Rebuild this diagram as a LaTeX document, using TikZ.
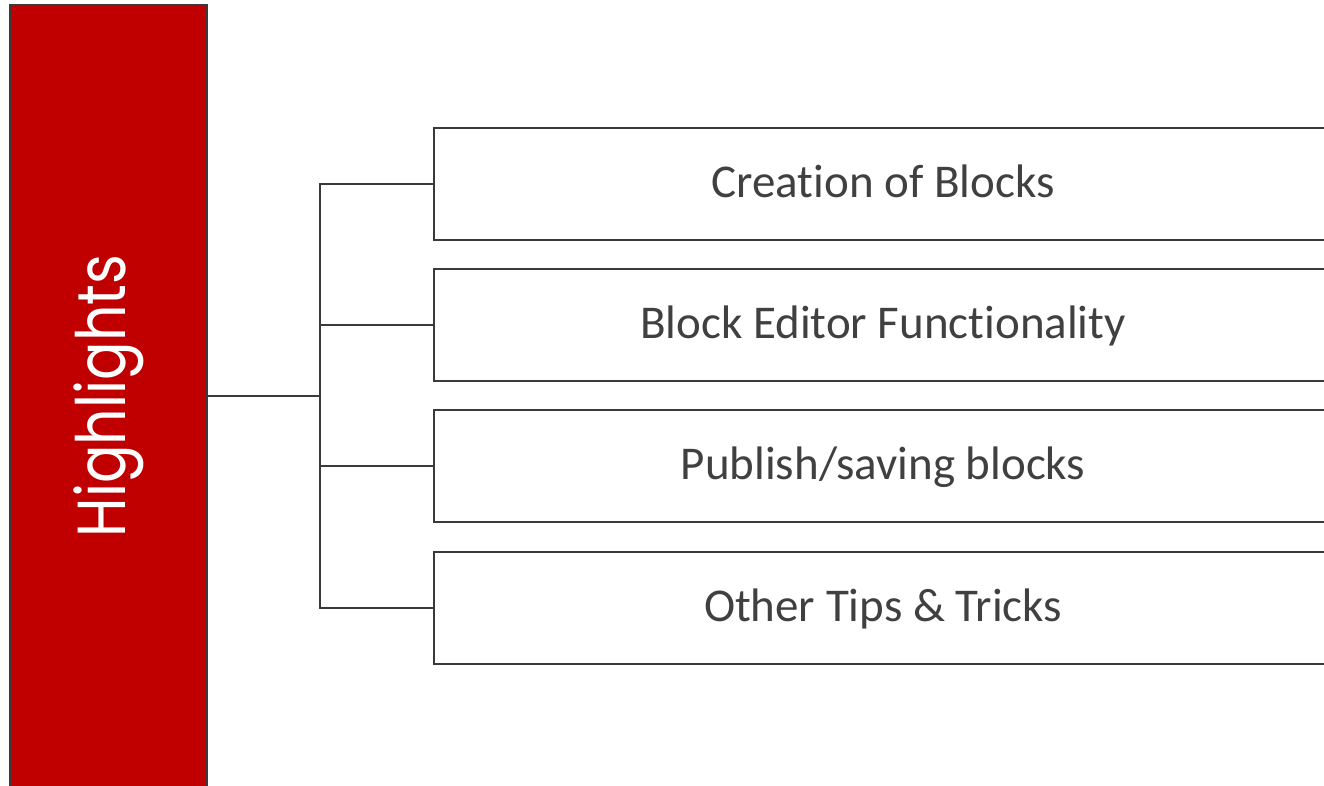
\documentclass[tikz,border=0pt]{standalone}
\usepackage{fontspec}
\usepackage{graphicx}
\setmainfont{Carlito}[Ligatures={NoCommon},RawFeature={-calt}]
\newfontfamily\hfont{Poppins}
\definecolor{hred}{HTML}{C00000}
\definecolor{lgray}{HTML}{3A3A3A}
\definecolor{tgray}{HTML}{404040}
\begin{document}
\begin{tikzpicture}[x=1pt,y=-1pt,
  itembox/.style={draw=lgray, line width=2.2pt, fill=white, minimum width=898pt, minimum height=112pt,
    anchor=west, inner sep=0pt, text=tgray, font=\fontsize{47}{47}\selectfont,
    text height=36pt, text depth=10pt},
  conn/.style={draw=lgray, line width=2.5pt}]
\useasboundingbox (0,0) rectangle (1324,785);
\path[clip] (0,0) rectangle (1324,785);
\fill[white] (0,0) rectangle (1324,785);
\node[draw=lgray, fill=hred, line width=2.2pt, rotate=90, minimum width=782pt, minimum height=196pt,
  inner sep=0pt, text=white] (hl) at (108.5,396)
  {\hfont\fontsize{68}{68}\selectfont\scalebox{0.84}[1]{Highlights}};
\node[itembox] (b1) at (433,184) {Creat\kern0pt ion of Blocks};
\node[itembox] (b2) at (433,325) {Block Editor Funct\kern0pt ionality};
\node[itembox] (b3) at (433,466) {Publish/saving blocks};
\node[itembox] (b4) at (433,608) {Other Tips \& Tricks};
\coordinate (bus) at (320,396);
\draw[conn] (hl.south) -- (bus);
\draw[conn] (bus) |- (b1.west);
\draw[conn] (bus) |- (b2.west);
\draw[conn] (bus) |- (b3.west);
\draw[conn] (bus) |- (b4.west);
\end{tikzpicture}
\end{document}
